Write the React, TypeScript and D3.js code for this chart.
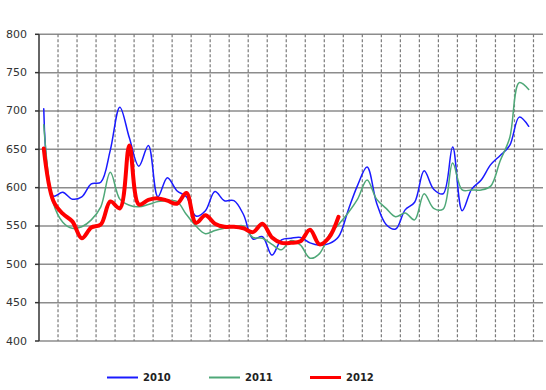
import React from "react";
import * as d3 from "d3";

const yTicks = [400, 450, 500, 550, 600, 650, 700, 750, 800];
const seriesNames = ["2010", "2011", "2012"];
const seriesColors = ["#1a1aff", "#4fa878", "#ff0000"];
const seriesWidths = [1.5, 1.5, 4];
const legendWidths = [2, 2, 3];

const values2010 = [
  703, 589, 594, 585, 588, 605, 607, 649, 705, 665, 628, 655, 588, 613, 596, 588,
  563, 570, 595, 583, 583, 565, 533, 536, 512, 532, 534, 535, 528, 525, 527, 536,
  570, 603, 627, 580, 552, 546, 571, 581, 622, 598, 592, 653, 570, 598, 610, 630,
  642, 655, 692, 680,
];
const values2011 = [
  682, 580, 555, 547, 549, 558, 575, 620, 585, 577, 575, 578, 582, 583, 582, 565,
  550, 540, 544, 547, 549, 550, 535, 534, 526, 519, 531, 525, 508, 514, 538, 552,
  567, 585, 610, 585, 573, 562, 567, 558, 592, 573, 572, 632, 597, 597, 597, 602,
  635, 665, 737, 728,
];
const values2012 = [
  651, 583, 566, 556, 534, 548, 552, 582, 573, 655, 578, 584, 586, 583, 579, 593,
  554, 564, 553, 549, 549, 547, 542, 553, 535, 528, 528, 530, 545, 526, 535, 562,
];

const allSeries = [values2010, values2011, values2012];
const nCategories = 53;

export default function App() {
  const width = 546;
  const height = 390;
  const left = 39;
  const right = 543;
  const top = 34.3;
  const bottom = 341;

  const x = d3.scaleLinear().domain([0, nCategories]).range([left, right]);
  const y = d3.scaleLinear().domain([400, 800]).range([bottom, top]);

  const line = d3
    .line<number>()
    .x((_, i) => x(i + 0.5))
    .y((d) => y(d))
    .curve(d3.curveCatmullRom.alpha(0.5));

  const vLines = d3.range(2, nCategories, 2);
  const legendX = [107, 209, 310];
  const legendY = 377.5;

  return (
    <svg
      width={width}
      height={height}
      style={{ position: "absolute", left: 0, top: 0, background: "#fff" }}
      fontFamily="'DejaVu Sans', Verdana, sans-serif"
    >
      {yTicks.map((t) => (
        <line
          key={"h" + t}
          x1={left}
          x2={right}
          y1={y(t)}
          y2={y(t)}
          stroke="#8c8c8c"
          strokeWidth={1.5}
        />
      ))}
      {vLines.map((k) => (
        <line
          key={"v" + k}
          x1={x(k)}
          x2={x(k)}
          y1={top}
          y2={bottom}
          stroke="#7a7a7a"
          strokeWidth={1.2}
          strokeDasharray="3,2"
        />
      ))}
      <line x1={left} x2={left} y1={top} y2={bottom} stroke="#333" strokeWidth={1.5} />
      {yTicks.map((t) => (
        <g key={"t" + t}>
          <line x1={left - 4} x2={left} y1={y(t)} y2={y(t)} stroke="#333" strokeWidth={1.5} />
          <text
            x={27}
            y={y(t)}
            textAnchor="end"
            dominantBaseline="central"
            fontSize={11}
            fill="#333"
          >
            {t}
          </text>
        </g>
      ))}
      {allSeries.map((s, i) => (
        <path
          key={"s" + i}
          d={line(s) || ""}
          fill="none"
          stroke={seriesColors[i]}
          strokeWidth={seriesWidths[i]}
          strokeLinejoin="round"
          strokeLinecap="round"
        />
      ))}
      {seriesNames.map((n, i) => (
        <g key={"l" + n}>
          <line
            x1={legendX[i]}
            x2={legendX[i] + 31}
            y1={legendY}
            y2={legendY}
            stroke={seriesColors[i]}
            strokeWidth={legendWidths[i]}
          />
          <text
            x={legendX[i] + 36}
            y={legendY}
            dominantBaseline="central"
            fontSize={10}
            fontWeight="bold"
            fill="#222"
          >
            {n}
          </text>
        </g>
      ))}
    </svg>
  );
}
